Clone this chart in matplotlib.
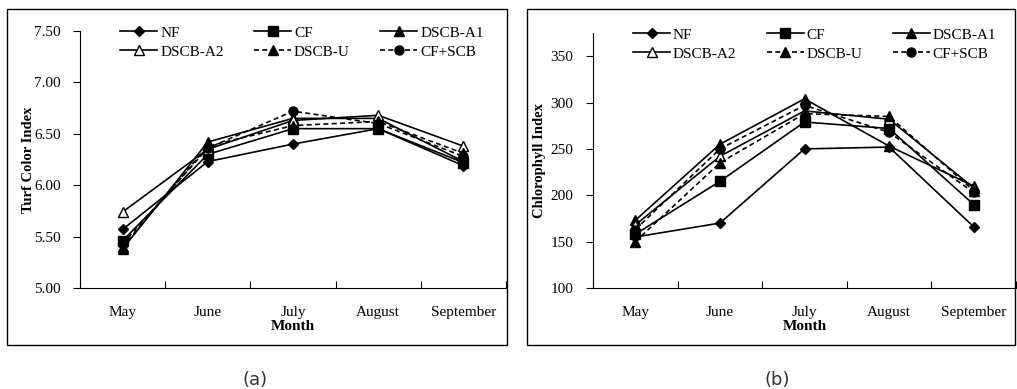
import matplotlib.pyplot as plt
from matplotlib.patches import Rectangle
import numpy as np

# Data
months = ['May', 'June', 'July', 'August', 'September']
series = ['NF', 'CF', 'DSCB-A1', 'DSCB-A2', 'DSCB-U', 'CF+SCB']

turf = {
    'NF':      [5.57, 6.23, 6.40, 6.55, 6.19],
    'CF':      [5.46, 6.30, 6.55, 6.55, 6.22],
    'DSCB-A1': [5.38, 6.42, 6.65, 6.65, 6.23],
    'DSCB-A2': [5.74, 6.35, 6.63, 6.68, 6.38],
    'DSCB-U':  [5.40, 6.38, 6.58, 6.62, 6.31],
    'CF+SCB':  [5.43, 6.36, 6.72, 6.60, 6.28],
}
chloro = {
    'NF':      [155, 170, 250, 252, 166],
    'CF':      [158, 215, 279, 272, 190],
    'DSCB-A1': [173, 255, 304, 253, 210],
    'DSCB-A2': [168, 242, 291, 282, 208],
    'DSCB-U':  [150, 235, 288, 285, 205],
    'CF+SCB':  [163, 250, 297, 268, 203],
}

styles = {
    'NF':      dict(ls='-',  marker='D', ms=5, mfc='black'),
    'CF':      dict(ls='-',  marker='s', ms=6.5, mfc='black'),
    'DSCB-A1': dict(ls='-',  marker='^', ms=6.5, mfc='black'),
    'DSCB-A2': dict(ls='-',  marker='^', ms=6.5, mfc='white'),
    'DSCB-U':  dict(ls='--', marker='^', ms=6.5, mfc='black'),
    'CF+SCB':  dict(ls='--', marker='o', ms=6.5, mfc='black'),
}

W, H = 1017, 389
fig = plt.figure(figsize=(W / 100, H / 100), dpi=100)
plt.rcParams['font.family'] = 'Liberation Serif'

def px_axes(x0, y0, x1, y1):
    return fig.add_axes([x0 / W, 1 - y1 / H, (x1 - x0) / W, (y1 - y0) / H])

def draw(ax, data, ylim, yticks, yfmt, ylabel, ylab_x):
    x = np.arange(len(months)) + 0.5
    lines = {}
    for name in series:
        st = styles[name]
        lines[name], = ax.plot(x, data[name], color='black', lw=1.2, ls=st['ls'],
                               marker=st['marker'], ms=st['ms'], mfc=st['mfc'], mec='black',
                               dashes=(3, 2) if st['ls'] == '--' else (None, None), label=name)
    ax.set_xlim(0, len(months))
    ax.set_ylim(*ylim)
    ax.set_xticks(np.arange(len(months) + 1))
    ax.set_xticklabels([])
    ax.set_xticks(x, minor=True)
    ax.set_xticklabels(months, minor=True, fontsize=11)
    ax.tick_params(axis='x', which='major', direction='in', length=5)
    ax.tick_params(axis='x', which='minor', length=0, pad=13)
    ax.set_yticks(yticks)
    ax.set_yticklabels([yfmt.format(v) for v in yticks], fontsize=11)
    ax.tick_params(axis='y', direction='out', length=5, pad=9)
    for s in ['top', 'right']:
        ax.spines[s].set_visible(False)
    ax.set_xlabel('Month', fontweight='bold', fontsize=11)
    ax.xaxis.set_label_coords(0.5, -0.125)
    ax.set_ylabel(ylabel, fontweight='bold', fontsize=10.5)
    ax.yaxis.set_label_coords(ylab_x, 0.5)
    # row-major legend order for 3 columns
    order = ['NF', 'DSCB-A2', 'CF', 'DSCB-U', 'DSCB-A1', 'CF+SCB']
    ax.legend([lines[n] for n in order], order, ncol=3, loc='upper left',
              bbox_to_anchor=(0.095, 1.02), frameon=False, fontsize=11,
              handlelength=2.4, handletextpad=0.2, columnspacing=2.0,
              labelspacing=0.35, borderaxespad=0, borderpad=0)

ax1 = px_axes(80, 31, 506, 288)
draw(ax1, turf, (5.0, 7.5), [5.0, 5.5, 6.0, 6.5, 7.0, 7.5], '{:.2f}',
     'Turf Color Index', -0.105)
ax2 = px_axes(593, 33, 1016, 288)
draw(ax2, chloro, (100, 375), [100, 150, 200, 250, 300, 350], '{:d}',
     'Chlorophyll Index', -0.11)

for x0, x1 in [(7, 507), (527, 1015)]:
    fig.patches.append(Rectangle((x0 / W, 1 - 345 / H), (x1 - x0) / W, 336 / H,
                                 transform=fig.transFigure, fill=False, ec='black', lw=1))

fig.text(255 / W, 1 - 380 / H, '(a)', ha='center', va='center', fontsize=13,
         family='DejaVu Sans', color='#333333')
fig.text(777 / W, 1 - 380 / H, '(b)', ha='center', va='center', fontsize=13,
         family='DejaVu Sans', color='#333333')

fig.savefig('out.png', dpi=100)
